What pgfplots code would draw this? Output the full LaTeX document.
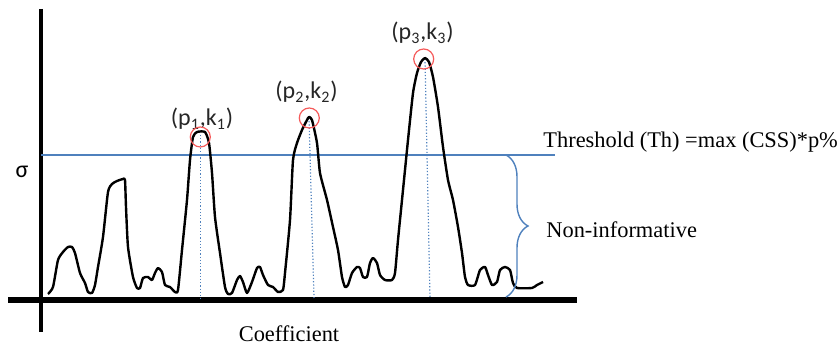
\documentclass[border=0pt]{standalone}
\usepackage{pgfplots}
\pgfplotsset{compat=1.18}
\usepackage{fontspec}
\setmainfont{Liberation Serif}
\newfontfamily\carlito{Carlito}
\usetikzlibrary{decorations.pathreplacing}
\definecolor{offblue}{RGB}{79,129,189}
\definecolor{circred}{RGB}{245,90,90}
\begin{document}
\begin{tikzpicture}
\begin{axis}[
  scale only axis, width=420pt, height=173.5pt,
  xmin=0, xmax=840, ymin=-47, ymax=300,
  hide axis, clip=false,
]
% axes
\addplot[black, line width=1.6pt] coordinates {(41,291) (41,-32)};
\addplot[black, line width=3pt] coordinates {(8,0) (577,0)};
% threshold
\addplot[offblue, line width=0.7pt] coordinates {(41,145) (555,145)};
% dotted peak lines
\addplot[offblue, densely dotted, line width=0.6pt] coordinates {(200.5,165) (200.5,0)};
\addplot[offblue, densely dotted, line width=0.6pt] coordinates {(309,182) (314,2)};
\addplot[offblue, densely dotted, line width=0.6pt] coordinates {(425,241) (430,2)};
% curve
\addplot[black, line width=1.2pt, line join=round, smooth, tension=0.35] coordinates {
(48,6) (53,13) (58,40) (63,48) (68,53) (72,53) (75,47) (80,27) (85,17) (88,8)
(92,7) (95,15) (98,33) (103,63) (108,108) (112,116) (117,119) (123,121) (125,120)
(126,93) (128,53) (133,23) (137,12) (140,12) (143,22) (148,23) (152,20) (155,27)
(158,32) (162,28) (165,15) (170,13) (175,8) (178,10) (182,50) (187,100) (190,140)
(193,163) (197,168) (205,168) (209,157) (212,127) (215,83) (220,47) (225,13)
(228,6) (232,7) (237,20) (240,24) (243,18) (247,7) (252,18) (257,32) (260,33)
(263,25) (268,15) (273,13) (278,8) (283,10) (285,27) (290,80) (293,140) (297,157)
(302,170) (307,180) (309,183) (312,180) (317,157) (320,127) (327,100) (333,73)
(338,50) (342,23) (345,13) (348,15) (352,27) (357,33) (360,32) (363,23) (367,23)
(370,37) (373,42) (377,37) (380,25) (385,20) (392,20) (395,27) (398,60) (403,110)
(408,160) (413,207) (417,227) (421,238) (425,242) (429,238) (433,223) (438,193)
(443,153) (448,120) (453,100) (458,73) (462,47) (465,23) (468,15) (475,15)
(480,30) (485,33) (488,25) (492,15) (497,18) (500,30) (505,33) (510,30) (513,17)
(517,12) (532,12) (537,15) (543,18)
};
% circles
\addplot[only marks, mark=o, mark size=5pt, circred, mark options={line width=0.6pt}]
  coordinates {(200.3,163) (309.3,182) (423.7,241)};
% brace
\draw[offblue, line width=0.7pt, decorate, decoration={brace, amplitude=11pt}]
  (axis cs:506,145) -- (axis cs:506,3);
% texts
\node[anchor=base west, inner sep=0pt] at (axis cs:543,152)
  {\fontsize{11.2}{13}\selectfont Threshold (Th) =max (CSS)*p\%};
\node[anchor=base west, inner sep=0pt] at (axis cs:546,62)
  {\fontsize{11.2}{13}\selectfont Non-informative};
\node[anchor=base, inner sep=0pt] at (axis cs:289,-42)
  {\fontsize{11.2}{13}\selectfont Coefficient};
\node[anchor=base, inner sep=0pt] at (axis cs:22,122)
  {\carlito\fontsize{12}{14}\selectfont σ};
\node[anchor=base, inner sep=0pt, black!85] at (axis cs:202,174)
  {\carlito\fontsize{12}{14}\selectfont (p\textsubscript{1},k\textsubscript{1})};
\node[anchor=base, inner sep=0pt, black!85] at (axis cs:306.5,201)
  {\carlito\fontsize{12}{14}\selectfont (p\textsubscript{2},k\textsubscript{2})};
\node[anchor=base, inner sep=0pt, black!85] at (axis cs:422.5,260)
  {\carlito\fontsize{12}{14}\selectfont (p\textsubscript{3},k\textsubscript{3})};
\end{axis}
\pgfresetboundingbox
\path (0,0) rectangle (420pt,173.5pt);
\end{tikzpicture}
\end{document}
